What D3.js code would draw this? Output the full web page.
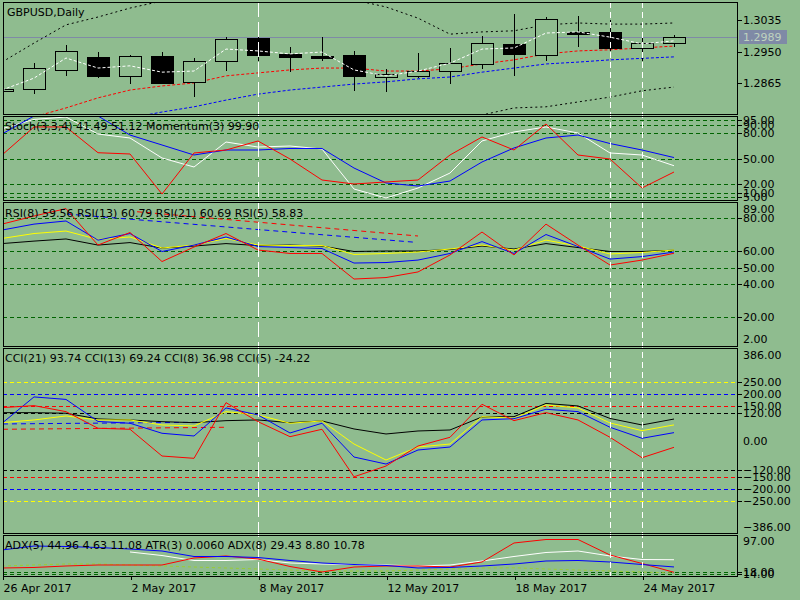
<!DOCTYPE html>
<html><head><meta charset="utf-8">
<script src="https://cdn.jsdelivr.net/npm/d3@7"></script>
<style>
html,body{margin:0;padding:0;background:#8FBC8F;}
svg{display:block;}
text{font-family:"DejaVu Sans",sans-serif;font-size:11px;fill:#000;}
</style></head><body>
<svg id="c" width="800" height="600"></svg>
<script>
// ---------------- DATA ----------------
const dates = ["2017-04-26","2017-04-27","2017-04-28","2017-05-01","2017-05-02","2017-05-03","2017-05-04","2017-05-05","2017-05-08","2017-05-09","2017-05-10","2017-05-11","2017-05-12","2017-05-15","2017-05-16","2017-05-17","2017-05-18","2017-05-19","2017-05-22","2017-05-23","2017-05-24","2017-05-25"];
const open  = [1.2844,1.2849,1.2902,1.2935,1.2886,1.2938,1.2869,1.2924,1.2987,1.2944,1.2938,1.2941,1.2883,1.2884,1.2897,1.2916,1.2971,1.2941,1.3003,1.3003,1.2961,1.2974];
const high  = [1.2851,1.2920,1.2968,1.2949,1.2941,1.2949,1.2932,1.2989,1.2992,1.2963,1.2990,1.2953,1.2903,1.2946,1.2959,1.2992,1.3051,1.3044,1.3046,1.3035,1.3000,1.2995];
const low   = [1.2843,1.2840,1.2888,1.2883,1.2865,1.2865,1.2831,1.2901,1.2928,1.2899,1.2928,1.2847,1.2845,1.2881,1.2867,1.2907,1.2887,1.2928,1.2966,1.2955,1.2928,1.2966];
const close = [1.2850,1.2905,1.2951,1.2886,1.2938,1.2867,1.2924,1.2983,1.2942,1.2935,1.2933,1.2886,1.2890,1.2898,1.2919,1.2973,1.2943,1.3037,1.2998,1.2961,1.2974,1.2989];
const maFast = [1.2847,1.2879,1.2933,1.2906,1.2912,1.2895,1.2898,1.2957,1.2952,1.2944,1.2949,1.2901,1.2885,1.2898,1.2919,1.2957,1.2960,1.3000,1.3003,1.2989,1.2971,1.2979];
const maMid  = [1.2756,1.2775,1.2799,1.2826,1.2847,1.2858,1.2866,1.2885,1.2893,1.2901,1.2906,1.2906,1.2898,1.2898,1.2904,1.2917,1.2928,1.2944,1.2952,1.2955,1.2960,1.2965];
const maSlow = [null,null,null,null,1.2772,1.2788,1.2802,1.2820,1.2836,1.2847,1.2855,1.2863,1.2869,1.2877,1.2882,1.2895,1.2906,1.2917,1.2922,1.2928,1.2932,1.2936];
const bandUpper = [1.2922,1.2973,1.3022,1.3043,1.3067,1.3086,1.3102,1.3110,1.3116,1.3116,1.3105,1.3089,1.3070,1.3040,1.2997,1.3003,1.3006,1.3022,1.3027,1.3024,1.3024,1.3027];
const bandLower = [null,null,null,null,null,null,null,null,null,null,null,null,null,1.2740,1.2753,1.2780,1.2799,1.2802,1.2815,1.2828,1.2845,1.2855];
const priceTicks = [1.3035,1.2950,1.2865];

const stochMain   = [85.0,96.0,98.8,78.8,74.1,50.6,40.0,69.4,63.5,64.7,61.2,14.1,3.5,15.3,32.9,70.6,81.2,87.1,80.0,56.5,54.1,41.49];
const stochSignal = [78.8,100,100,100,77.6,65.9,54.1,60.0,60.0,61.8,61.8,38.8,21.2,17.6,23.5,45.9,62.4,74.1,77.6,67.6,60.0,51.12];
const momentum    = [54.1,87.1,87.1,56.8,55.3,8.2,56.5,60.0,70.6,49.4,24.7,20.0,22.4,24.7,54.1,75.3,60.0,90.6,54.1,49.4,15.3,34.1];
const stochLevels = [95,90,80,50,20,10,5];

const rsi5  = [76.5,81.4,85.9,63.8,71.4,53.8,62.6,70.8,60.8,58.7,58.7,43.2,44.1,47.5,57.8,71.7,57.8,76.5,63.8,51.7,54.7,58.83];
const rsi8  = [72.9,76.5,78.4,66.8,70.8,59.9,63.8,68.7,62.9,62.3,61.7,52.9,53.2,54.7,58.7,65.9,58.7,70.2,62.9,55.3,56.8,59.56];
const rsi13 = [67.8,70.8,72.3,67.2,68.7,62.0,63.8,67.8,63.8,63.5,63.5,58.1,58.7,59.6,61.4,63.8,60.8,66.8,63.2,58.4,59.3,60.79];
const rsi21 = [64.7,66.2,67.5,63.8,65.3,62.0,63.2,64.7,63.5,63.8,63.2,59.9,60.2,60.2,61.1,63.2,61.4,64.7,62.3,59.9,59.9,60.69];
const rsiTrendRed  = [[4.22,84.0],[13.0,69.3]];
const rsiTrendBlue = [[2.03,82.6],[12.91,65.5]];
const rsiLevels = [80,60,50,40,20];

const cci21 = [120.4,120.4,117.9,94.1,89.9,82.8,78.6,87.0,89.9,78.6,85.7,52.3,31.4,43.9,48.1,102.4,103.7,158.9,148.4,96.2,69.0,93.74];
const cci13 = [78.6,89.9,106.6,89.9,89.9,69.0,64.8,124.6,110.8,76.1,85.7,-10.5,-77.3,-23.0,-10.5,103.7,97.0,152.6,140.1,77.3,45.2,69.24];
const cci8  = [76.1,186.0,175.6,83.6,76.1,34.3,23.0,140.1,110.8,35.5,76.1,-64.8,-94.1,-35.5,-23.0,89.9,95.3,134.6,124.6,59.4,13.4,36.98];
const cci5  = [141.3,149.7,124.6,55.2,51.0,-60.6,-70.2,162.2,82.8,20.1,51.0,-147.2,-102.4,-18.8,17.6,155.5,87.0,120.4,89.9,17.6,-67.7,-24.22];
const cciTrendBlue = [[0.03,73.2],[6.19,80.3]];
const cciTrendRed  = [[0.03,51.0],[7.03,59.4]];
const cciLevels = [250,200,150,120,-120,-150,-200,-250];

const adxMain5 = [null,null,null,null,61.6,54.0,43.3,43.3,45.4,37.9,35.8,34.7,33.6,31.5,33.6,42.2,51.9,60.5,63.7,53.0,45.4,44.96];
const adxMain8 = [65.9,74.4,73.4,71.2,68.0,63.7,51.9,51.9,49.7,43.3,37.9,34.7,32.6,27.2,28.3,31.5,35.8,42.2,43.3,40.1,34.7,29.43];
const adxRed   = [27.2,28.3,31.5,33.6,33.6,33.6,48.7,53.0,46.5,30.4,18.6,29.3,31.5,31.5,29.3,40.1,80.9,88.4,88.4,55.1,36.9,17.9];
const atrLine  = [31.5,33.6,35.8,35.8,33.6,31.5,29.3,27.2,25.0,22.9,20.7,20.7,20.7,22.9,25.0,27.2,27.7,25.0,22.9,20.7,18.6,16.4];
const adxLevels = [18,14];

const timeTickIdx = [0,4,8,12,16,20];
const vLongIdx = [8];
const vShortIdx = [19,20];

// ---------------- LAYOUT ----------------
const BG = "#8FBC8F", GRID = "#006400";
const X0 = 3, X1 = 737;
const svg = d3.select("#c");
svg.append("rect").attr("width",800).attr("height",600).attr("fill",BG);
const P = {
  main:{top:2,bottom:114}, stoch:{top:116,bottom:200}, rsi:{top:202,bottom:346},
  cci:{top:348,bottom:533}, adx:{top:535,bottom:576}
};
const defs = svg.append("defs");
Object.entries(P).forEach(([k,p])=>{
  defs.append("clipPath").attr("id","clip-"+k).append("rect")
    .attr("x",X0).attr("y",p.top).attr("width",X1-X0).attr("height",p.bottom-p.top);
});

const x = d3.scaleLinear().domain([0,21]).range([2,674]);
const yMain  = d3.scaleLinear().domain([1.27827,1.30833]).range([114,2]);
const yStoch = d3.scaleLinear().domain([0,100]).range([201,116]);
const yRsi   = d3.scaleLinear().domain([2,89]).range([347,203.5]);
const yCci   = d3.scaleLinear().domain([-386,386]).range([534,349]);
const yAdx   = d3.scaleLinear().domain([10,97]).range([576,535.5]);

const seriesLine = ys => d3.line().defined(d=>d!=null).x((d,i)=>x(i)).y(d=>ys(d));
const segLine = ys => d3.line().x(d=>x(d[0])).y(d=>ys(d[1]));
function drawSeries(g, data, ys, color, dash){
  g.append("path").datum(data).attr("d",seriesLine(ys)).attr("fill","none")
   .attr("stroke",color).attr("stroke-width",1).attr("stroke-dasharray",dash||null);
}
function drawLevels(g, levels, ys, colorFn){
  g.selectAll(null).data(levels).join("line")
   .attr("x1",X0).attr("x2",X1)
   .attr("y1",d=>Math.round(ys(d))+0.5).attr("y2",d=>Math.round(ys(d))+0.5)
   .attr("stroke",colorFn).attr("stroke-dasharray","4,3").attr("shape-rendering","crispEdges");
}

// ---------- MAIN ----------
const gMain = svg.append("g").attr("clip-path","url(#clip-main)");
const lastPrice = close[close.length-1];
gMain.append("line").attr("x1",X0).attr("x2",X1)
  .attr("y1",Math.round(yMain(lastPrice))+0.5).attr("y2",Math.round(yMain(lastPrice))+0.5)
  .attr("stroke","#7F8AA6").attr("shape-rendering","crispEdges");
drawSeries(gMain, bandUpper, yMain, "#000", "2,3");
drawSeries(gMain, bandLower, yMain, "#000", "2,3");
drawSeries(gMain, maSlow, yMain, "#0000FF", "3,2");
drawSeries(gMain, maMid, yMain, "#FF0000", "3,2");
const idx = d3.range(dates.length);
const cx = i => Math.round(x(i))+0.5;
gMain.selectAll(".wu").data(idx).join("line")
  .attr("x1",cx).attr("x2",cx)
  .attr("y1",i=>Math.round(yMain(high[i]))).attr("y2",i=>Math.round(yMain(Math.max(open[i],close[i]))))
  .attr("stroke","#000").attr("shape-rendering","crispEdges");
gMain.selectAll(".wl").data(idx).join("line")
  .attr("x1",cx).attr("x2",cx)
  .attr("y1",i=>Math.round(yMain(Math.min(open[i],close[i])))).attr("y2",i=>Math.round(yMain(low[i]))+1)
  .attr("stroke","#000").attr("shape-rendering","crispEdges");
gMain.selectAll(".body").data(idx).join("rect")
  .attr("x",i=>Math.round(x(i))-11+0.5).attr("width",22)
  .attr("y",i=>Math.round(yMain(Math.max(open[i],close[i])))+0.5)
  .attr("height",i=>Math.max(1,Math.round(yMain(Math.min(open[i],close[i])))-Math.round(yMain(Math.max(open[i],close[i])))))
  .attr("fill",i=>close[i]<open[i]?"#000":BG).attr("stroke","#000").attr("shape-rendering","crispEdges");
drawSeries(gMain, maFast, yMain, "#FFFFFF", "3,2");

// ---------- STOCH ----------
const gSt = svg.append("g").attr("clip-path","url(#clip-stoch)");
drawLevels(gSt, stochLevels, yStoch, ()=>GRID);
drawSeries(gSt, stochMain, yStoch, "#FFFFFF");
drawSeries(gSt, stochSignal, yStoch, "#0000FF");
drawSeries(gSt, momentum, yStoch, "#FF0000");

// ---------- RSI ----------
const gR = svg.append("g").attr("clip-path","url(#clip-rsi)");
drawLevels(gR, rsiLevels, yRsi, ()=>GRID);
gR.append("path").datum(rsiTrendRed).attr("d",segLine(yRsi)).attr("stroke","#FF0000").attr("stroke-dasharray","5,4").attr("fill","none");
gR.append("path").datum(rsiTrendBlue).attr("d",segLine(yRsi)).attr("stroke","#0000FF").attr("stroke-dasharray","5,4").attr("fill","none");
drawSeries(gR, rsi21, yRsi, "#000000");
drawSeries(gR, rsi13, yRsi, "#FFFF00");
drawSeries(gR, rsi8, yRsi, "#0000FF");
drawSeries(gR, rsi5, yRsi, "#FF0000");

// ---------- CCI ----------
const gC = svg.append("g").attr("clip-path","url(#clip-cci)");
const cciColor = d => ({250:"#FFFF00",200:"#0000FF",150:"#FF0000",120:"#000000"})[Math.abs(d)];
drawLevels(gC, cciLevels, yCci, cciColor);
gC.append("path").datum(cciTrendBlue).attr("d",segLine(yCci)).attr("stroke","#0000FF").attr("stroke-dasharray","5,4").attr("fill","none");
gC.append("path").datum(cciTrendRed).attr("d",segLine(yCci)).attr("stroke","#FF0000").attr("stroke-dasharray","5,4").attr("fill","none");
drawSeries(gC, cci21, yCci, "#000000");
drawSeries(gC, cci13, yCci, "#FFFF00");
drawSeries(gC, cci8, yCci, "#0000FF");
drawSeries(gC, cci5, yCci, "#FF0000");

// ---------- ADX ----------
const gA = svg.append("g").attr("clip-path","url(#clip-adx)");
drawLevels(gA, adxLevels, yAdx, ()=>GRID);
drawSeries(gA, atrLine, yAdx, "#9ACD32", "3,3");
drawSeries(gA, adxMain5, yAdx, "#FFFFFF");
drawSeries(gA, adxRed, yAdx, "#FF0000");
drawSeries(gA, adxMain8, yAdx, "#0000FF");

// ---------- vertical lines ----------
svg.selectAll(".vl").data(vLongIdx).join("line")
  .attr("x1",cx).attr("x2",cx).attr("y1",P.main.top).attr("y2",P.adx.bottom)
  .attr("stroke","#FFFFFF").attr("stroke-dasharray","15,5").attr("shape-rendering","crispEdges");
svg.selectAll(".vs").data(vShortIdx).join("line")
  .attr("x1",cx).attr("x2",cx).attr("y1",P.main.top).attr("y2",P.adx.bottom)
  .attr("stroke","#FFFFFF").attr("stroke-dasharray","6,4").attr("shape-rendering","crispEdges");

// ---------- borders ----------
Object.values(P).forEach(p=>{
  svg.append("rect").attr("x",X0+0.5).attr("y",p.top+0.5).attr("width",X1-X0).attr("height",p.bottom-p.top)
   .attr("fill","none").attr("stroke","#000").attr("shape-rendering","crispEdges");
});

// ---------- right axes ----------
function rightAxis(ys, vals, fmt){
  const g = svg.append("g").attr("transform",`translate(${X1},0)`)
    .call(d3.axisRight(ys).tickValues(vals).tickFormat(fmt).tickSize(5).tickPadding(1));
  g.select(".domain").remove();
  g.selectAll("line").attr("stroke","#000").attr("shape-rendering","crispEdges");
  g.selectAll("text").attr("font-family","DejaVu Sans").attr("font-size",11).attr("fill","#000");
  return g;
}
function extraLabel(yPos, txt){
  svg.append("text").attr("x",X1+6).attr("y",yPos).attr("dy","0.35em").text(txt);
}
const f2 = d3.format(".2f");
rightAxis(yMain, priceTicks, d3.format(".4f"));
rightAxis(yStoch, stochLevels, f2);
rightAxis(yRsi, rsiLevels, f2);
extraLabel(yRsi(89)+6, f2(89));
extraLabel(yRsi(2)-8, f2(2));
rightAxis(yCci, cciLevels, f2);
extraLabel(yCci(0), f2(0));
extraLabel(yCci(386)+6, f2(386));
extraLabel(yCci(-386)-7, f2(-386));
rightAxis(yAdx, adxLevels, f2);
extraLabel(yAdx(97)+6, f2(97));

// price tag
const py = yMain(lastPrice);
svg.append("rect").attr("x",739).attr("y",Math.round(py)-7).attr("width",48).attr("height",14).attr("fill","#7F8AA6");
svg.append("text").attr("x",743).attr("y",py).attr("dy","0.35em").style("fill","#BFD3BF").text(d3.format(".4f")(lastPrice));

// ---------- time axis ----------
const parse = d3.timeParse("%Y-%m-%d"), tfmt = d3.timeFormat("%-d %b %Y");
const tAx = svg.append("g").attr("transform",`translate(0,${P.adx.bottom})`)
  .call(d3.axisBottom(x).tickValues(timeTickIdx).tickFormat(i=>tfmt(parse(dates[i]))).tickSize(4));
tAx.select(".domain").remove();
tAx.selectAll("line").attr("stroke","#000").attr("transform","translate(0.5,0)").attr("shape-rendering","crispEdges");
tAx.selectAll("text").attr("text-anchor","start").attr("x",1).attr("y",16).attr("dy",null)
  .attr("font-family","DejaVu Sans").attr("font-size",11).attr("fill","#000");

// ---------- legends ----------
const legends = [
  [7,16,"GBPUSD,Daily"],
  [5,130,"Stoch(3,3,4) 41.49 51.12 Momentum(3) 99.90"],
  [5,217,"RSI(8) 59.56 RSI(13) 60.79 RSI(21) 60.69 RSI(5) 58.83"],
  [5,362,"CCI(21) 93.74 CCI(13) 69.24 CCI(8) 36.98 CCI(5) -24.22"],
  [5,549,"ADX(5) 44.96 4.63 11.08 ATR(3) 0.0060 ADX(8) 29.43 8.80 10.78"]
];
svg.selectAll(".lg").data(legends).join("text").attr("x",d=>d[0]).attr("y",d=>d[1]).text(d=>d[2]);
</script>
</body></html>
